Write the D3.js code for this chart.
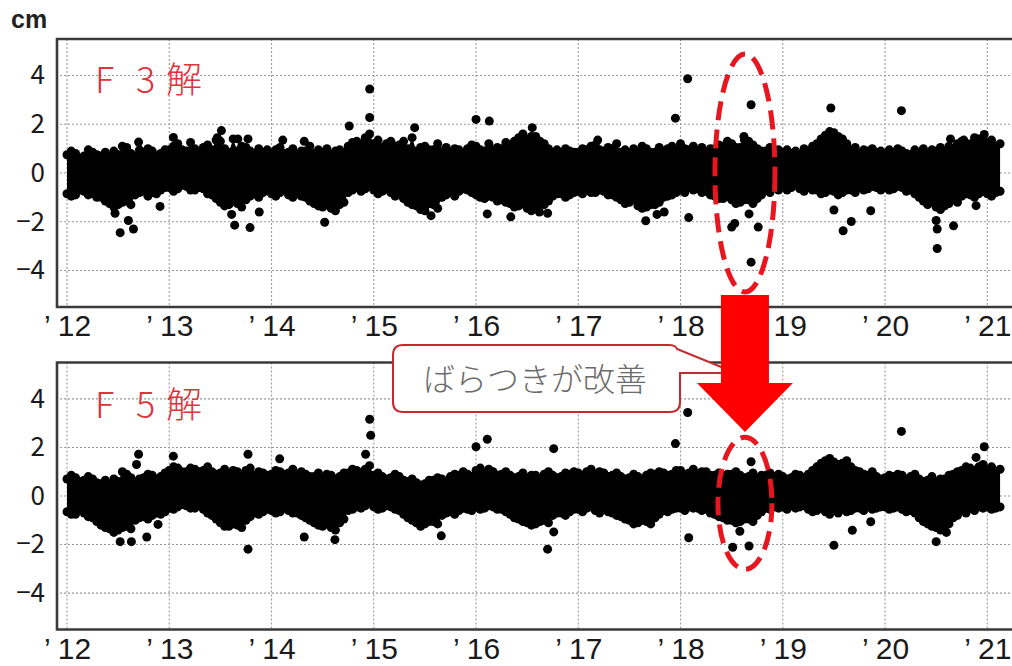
<!DOCTYPE html>
<html><head><meta charset="utf-8">
<script src="https://cdn.jsdelivr.net/npm/d3@7"></script>
<style>
html,body{margin:0;padding:0;background:#fff;}
svg{display:block;font-family:"Noto Sans CJK JP","Noto Sans",sans-serif;}
</style></head>
<body><svg id="c" width="1012" height="666"></svg>
<script>
// ---------- data ----------
const years = [2012,2013,2014,2015,2016,2017,2018,2019,2020,2021];
const yTicks = [-4,-2,0,2,4];
const unitLabel = "cm";
const panelNames = [["F","3","解"],["F","5","解"]];
const calloutText = "ばらつきが改善";
// month starts Jan 2012 .. Feb 2021
const months = [];
for (let y = 2012; y <= 2021; y++) for (let m = 0; m < 12; m++) { if (y === 2021 && m > 1) break; months.push(y + m/12); }

// F3 solution: upper / lower edge of the dense daily cloud (cm), at month start and mid-month
const f3Upper = [
 0.75,0.8,0.7,0.85,0.7,0.65,0.75,1.05,0.7,0.85,0.9,0.8,
 0.95,1.2,0.9,1.0,1.05,0.95,1.3,0.85,0.9,1.05,0.8,0.85,
 0.8,1.05,0.85,0.75,0.9,0.8,0.85,0.75,0.95,1.1,1.3,1.45,
 1.2,1.05,1.3,1.15,1.0,0.9,1.1,0.95,0.9,0.85,0.95,1.0,
 1.1,0.9,0.95,1.0,1.15,1.45,1.35,1.5,1.2,0.85,0.8,0.9,
 0.85,0.95,1.15,0.9,1.0,0.85,0.8,0.9,1.0,0.85,0.9,1.1,
 1.2,0.95,0.9,0.85,1.0,1.1,1.2,1.05,1.3,1.0,0.9,0.8,
 0.85,0.8,0.75,0.9,1.2,1.55,1.65,1.4,0.95,0.8,0.9,0.85,
 0.8,0.85,0.9,0.75,0.85,0.8,0.9,0.85,1.0,1.3,1.2,1.4,
 1.25,1.1];
const f3UpperMid = [
 0.9,0.6,0.95,0.75,0.85,0.9,1.1,0.8,0.95,1.0,0.7,0.95,
 1.1,0.95,1.25,0.85,1.15,1.35,1.0,1.4,1.1,0.9,1.0,0.95,
 0.95,0.8,1.0,0.9,1.1,0.95,1.0,0.9,0.85,1.25,1.2,1.6,
 1.35,1.2,1.1,1.3,1.45,1.05,0.95,1.2,1.05,1.0,0.8,1.15,
 0.95,1.2,1.05,1.25,1.3,1.6,1.5,1.3,1.0,0.95,1.0,0.85,
 1.0,1.1,0.95,1.05,1.2,0.95,1.0,1.1,0.85,1.05,1.0,0.95,
 1.0,1.1,1.05,1.0,1.15,1.3,1.05,1.35,1.15,0.9,1.05,0.95,
 0.95,0.9,1.0,1.1,1.4,1.7,1.5,1.2,1.05,0.95,1.0,0.9,
 0.95,1.0,0.8,0.95,1.0,0.95,1.05,1.1,1.2,1.15,1.45,1.3,
 1.35,1.2];
const f3Lower = [
 -0.85,-0.9,-0.75,-0.85,-1.0,-1.25,-1.3,-1.15,-0.9,-0.75,-0.8,-0.7,
 -0.6,-0.65,-0.55,-0.7,-0.65,-0.9,-1.2,-1.3,-1.25,-1.1,-0.85,-0.8,
 -0.85,-0.8,-0.9,-0.85,-1.0,-1.25,-1.4,-1.45,-1.3,-0.8,-0.6,-0.65,
 -0.7,-0.75,-0.8,-0.9,-1.2,-1.35,-1.4,-1.3,-1.0,-0.8,-0.75,-0.7,
 -0.9,-1.05,-1.0,-1.1,-1.25,-1.35,-1.45,-1.4,-1.3,-0.95,-0.85,-0.9,
 -0.75,-0.7,-0.8,-0.75,-0.9,-1.1,-1.2,-1.35,-1.4,-1.3,-1.0,-0.9,
 -0.7,-0.6,-0.65,-0.75,-0.95,-1.05,-1.1,-1.2,-1.1,-1.05,-0.7,-0.6,
 -0.55,-0.6,-0.65,-0.6,-0.7,-0.8,-0.75,-0.8,-0.7,-0.6,-0.65,-0.6,
 -0.6,-0.65,-0.6,-0.7,-1.0,-1.3,-1.4,-1.35,-1.1,-0.95,-0.9,-0.85,
 -0.85,-0.8];
const f3LowerMid = [
 -0.95,-0.7,-0.9,-1.0,-1.15,-1.4,-1.2,-1.3,-0.8,-0.95,-0.85,-0.6,
 -0.75,-0.5,-0.7,-0.6,-0.85,-1.05,-1.35,-1.15,-1.4,-0.95,-1.0,-0.7,
 -0.95,-0.7,-1.0,-0.95,-1.15,-1.35,-1.3,-1.55,-1.2,-0.7,-0.75,-0.55,
 -0.85,-0.65,-0.95,-1.05,-1.3,-1.5,-1.25,-1.45,-0.9,-0.95,-0.65,-0.8,
 -1.0,-0.95,-1.15,-1.2,-1.4,-1.25,-1.55,-1.3,-1.15,-0.85,-1.0,-0.8,
 -0.85,-0.8,-0.7,-0.9,-1.0,-1.25,-1.1,-1.45,-1.3,-1.2,-0.95,-0.8,
 -0.8,-0.7,-0.8,-0.9,-1.05,-0.95,-1.25,-1.1,-1.25,-0.9,-0.8,-0.7,
 -0.7,-0.5,-0.75,-0.7,-0.85,-0.7,-0.9,-0.7,-0.8,-0.7,-0.55,-0.7,
 -0.7,-0.55,-0.75,-0.85,-1.15,-1.2,-1.5,-1.25,-1.2,-0.85,-1.0,-0.75,
 -0.95,-0.75];
// F3 isolated daily points [decimal year, cm]
const f3Outliers = [
 [2012.47,-1.65],[2012.52,-2.45],[2012.60,-1.95],[2012.65,-2.3],[2012.91,-1.37],[2012.70,1.27],
 [2013.04,1.46],[2013.47,1.45],[2013.51,1.74],[2013.67,1.4],[2013.77,1.4],[2013.61,-1.7],[2013.64,-2.14],[2013.79,-2.24],[2013.88,-1.6],
 [2014.11,1.35],[2014.32,1.3],[2014.52,-2.02],[2014.76,1.93],[2014.96,2.28],[2014.96,3.45],
 [2015.40,1.86],[2015.56,-1.75],[2015.50,-1.55],[2016.0,2.2],[2016.13,2.13],[2016.11,-1.68],[2016.34,-1.8],[2016.55,1.86],[2016.62,-1.6],[2016.70,-1.65],
 [2017.19,1.35],[2017.66,-1.96],[2017.77,-1.7],[2017.84,-1.6],[2017.95,2.25],[2018.07,3.87],[2018.08,-1.83],
 [2018.69,2.8],[2018.50,-2.22],[2018.53,-2.07],[2018.67,-1.68],[2018.76,-2.22],[2018.69,-3.66],[2018.62,1.5],
 [2019.47,2.67],[2019.50,-1.52],[2019.59,-2.37],[2019.67,-1.99],[2019.86,-1.55],
 [2020.16,2.56],[2020.51,-3.1],[2020.51,-2.3],[2020.50,-1.95],[2020.67,-2.17],[2020.89,-1.34],[2020.97,1.58],[2020.64,1.4],[2020.77,1.35]];

// F5 solution
const f5Upper = [
 0.7,0.75,0.65,0.7,0.5,0.45,0.6,0.9,0.55,0.75,0.85,0.8,
 1.05,1.15,1.0,1.1,1.05,1.0,0.95,0.9,1.0,1.05,0.85,0.95,
 0.9,1.0,0.95,0.85,0.9,0.8,0.75,0.85,0.8,0.95,1.05,1.1,
 0.85,0.8,0.75,0.8,0.6,0.55,0.5,0.65,0.7,0.8,0.85,0.9,
 1.05,0.95,1.0,0.9,0.85,0.8,0.75,0.85,0.9,0.85,0.8,0.9,
 0.95,1.0,0.9,0.95,0.85,0.8,0.75,0.8,0.85,0.9,0.95,0.9,
 1.05,0.95,0.9,1.0,0.85,0.8,0.9,0.85,0.8,0.75,0.85,0.8,
 0.8,0.75,0.85,0.9,1.2,1.45,1.4,1.35,1.2,1.0,0.85,0.8,
 0.75,0.8,0.85,0.8,0.7,0.65,0.6,0.7,0.9,1.05,1.15,1.2,
 1.1,1.0];
const f5UpperMid = [
 0.85,0.6,0.8,0.55,0.65,0.7,1.0,0.75,0.7,0.9,0.7,0.95,
 1.2,1.0,1.15,1.0,1.2,0.9,1.1,1.05,0.85,1.15,1.0,0.85,
 1.05,0.9,1.1,1.0,0.8,0.95,0.9,0.7,0.95,1.1,0.95,1.25,
 0.95,0.7,0.9,0.65,0.7,0.45,0.65,0.75,0.6,0.9,1.0,0.8,
 1.15,1.1,0.85,1.0,0.75,0.95,0.85,0.7,1.0,0.75,0.95,1.0,
 0.85,1.1,1.0,0.8,0.95,0.7,0.9,0.7,0.95,1.0,0.85,1.05,
 0.9,1.1,1.0,0.85,0.95,0.9,1.0,0.75,0.95,0.85,0.95,0.9,
 0.7,0.9,0.75,1.05,1.35,1.55,1.3,1.45,1.05,0.9,1.0,0.7,
 0.85,0.9,0.7,0.9,0.6,0.8,0.7,0.85,1.0,1.2,1.05,1.3,
 1.2,1.1];
const f5Lower = [
 -0.65,-0.75,-0.7,-0.9,-1.2,-1.35,-1.4,-1.25,-1.0,-0.85,-0.8,-0.75,
 -0.5,-0.45,-0.4,-0.5,-0.55,-0.8,-1.1,-1.25,-1.2,-1.0,-0.7,-0.65,
 -0.6,-0.65,-0.6,-0.7,-0.9,-1.1,-1.25,-1.3,-1.1,-0.6,-0.45,-0.4,
 -0.45,-0.5,-0.45,-0.6,-0.9,-1.1,-1.15,-1.05,-0.8,-0.65,-0.6,-0.55,
 -0.45,-0.5,-0.45,-0.55,-0.75,-0.95,-1.1,-1.15,-1.0,-0.8,-0.7,-0.65,
 -0.55,-0.5,-0.6,-0.55,-0.7,-0.85,-1.0,-1.1,-1.05,-0.9,-0.6,-0.55,
 -0.5,-0.45,-0.5,-0.55,-0.75,-0.9,-1.0,-1.05,-0.95,-0.8,-0.5,-0.45,
 -0.45,-0.4,-0.45,-0.55,-0.6,-0.65,-0.6,-0.55,-0.6,-0.5,-0.45,-0.5,
 -0.45,-0.5,-0.55,-0.6,-0.9,-1.15,-1.3,-1.25,-0.9,-0.6,-0.5,-0.45,
 -0.45,-0.5];
const f5LowerMid = [
 -0.75,-0.6,-0.85,-1.05,-1.3,-1.5,-1.3,-1.35,-0.9,-0.95,-0.7,-0.65,
 -0.55,-0.35,-0.5,-0.4,-0.7,-0.95,-1.25,-1.15,-1.3,-0.85,-0.75,-0.55,
 -0.7,-0.5,-0.7,-0.8,-1.0,-1.2,-1.15,-1.4,-0.95,-0.55,-0.5,-0.3,
 -0.55,-0.4,-0.55,-0.75,-1.0,-1.25,-1.05,-1.15,-0.7,-0.75,-0.5,-0.6,
 -0.55,-0.4,-0.55,-0.65,-0.9,-1.05,-1.2,-1.05,-1.1,-0.7,-0.8,-0.55,
 -0.65,-0.45,-0.7,-0.65,-0.8,-0.95,-1.15,-1.0,-1.15,-0.75,-0.65,-0.5,
 -0.6,-0.5,-0.6,-0.7,-0.85,-1.0,-1.1,-0.95,-1.05,-0.65,-0.55,-0.5,
 -0.55,-0.5,-0.4,-0.65,-0.5,-0.75,-0.7,-0.65,-0.5,-0.6,-0.55,-0.45,
 -0.55,-0.45,-0.65,-0.7,-1.05,-1.25,-1.4,-1.15,-0.8,-0.7,-0.6,-0.5,
 -0.55,-0.45];
const f5Outliers = [
 [2012.52,-1.88],[2012.63,-1.88],[2012.78,-1.69],[2012.89,-1.17],[2012.70,1.72],[2012.68,1.3],
 [2013.04,1.64],[2013.77,1.72],[2013.77,-2.19],[2014.08,1.53],[2014.32,-1.69],[2014.62,-1.8],[2014.96,3.16],[2014.97,2.5],[2014.92,1.72],
 [2015.66,-1.64],[2016.0,2.03],[2016.11,2.34],[2016.76,1.95],[2016.70,-2.19],[2016.76,-1.48],
 [2017.95,2.16],[2018.07,3.44],[2018.08,-1.72],
 [2018.69,1.41],[2018.51,-2.11],[2018.67,-2.06],[2018.58,-1.45],
 [2019.50,-2.03],[2019.68,-1.41],[2019.86,-1.06],[2020.16,2.66],[2020.50,-1.88],[2020.60,-1.5],[2020.89,1.59],[2020.97,2.03]];

const highlightYear = 2018.63;

// ---------- drawing ----------
const svg = d3.select("#c");
const W = 1012;
const x = d3.scaleLinear().domain([2012, 2021]).range([67, 987.3]);
const frameLeft = 57;
const R = 4.5;

const panels = [
  {name: panelNames[0], up: f3Upper, upM: f3UpperMid, lo: f3Lower, loM: f3LowerMid, out: f3Outliers, top: 39, bottom: 307, labelBase: 93, ellCy: 0, ellRy: 119, ellRx: 30},
  {name: panelNames[1], up: f5Upper, upM: f5UpperMid, lo: f5Lower, loM: f5LowerMid, out: f5Outliers, top: 362.5, bottom: 629.5, labelBase: 418, ellCy: -0.3, ellRy: 66, ellRx: 27}
];

panels.forEach((p, i) => {
  const y = d3.scaleLinear().domain([-5.5, 5.5]).range([p.bottom, p.top]);
  p.y = y;
  const g = svg.append("g");
  const clipId = "clip" + i;
  svg.append("clipPath").attr("id", clipId).append("rect")
    .attr("x", frameLeft).attr("y", p.top).attr("width", W - frameLeft + 10).attr("height", p.bottom - p.top);

  // grid
  const grid = g.append("g").attr("stroke", "#9a9a9a").attr("stroke-width", 1.1).attr("stroke-dasharray", "2,2");
  grid.selectAll("line.h").data(yTicks).join("line")
    .attr("x1", frameLeft + 3).attr("x2", W + 5).attr("y1", d => y(d)).attr("y2", d => y(d));
  grid.selectAll("line.v").data(years).join("line")
    .attr("x1", d => x(d)).attr("x2", d => x(d)).attr("y1", p.top).attr("y2", p.bottom);

  // data
  const dg = g.append("g").attr("clip-path", `url(#${clipId})`);
  const band = months.flatMap((t, k) => [
    {t, u: p.up[k], l: p.lo[k]},
    {t: t + 0.5/12, u: p.upM[k], l: p.loM[k]}
  ]);
  dg.append("path").datum(band)
    .attr("d", d3.area().x(d => x(d.t)).y0(d => y(d.l)).y1(d => y(d.u)))
    .attr("fill", "#000");
  const edgePts = band.flatMap(d => [[d.t, d.u], [d.t, d.l]]);
  dg.selectAll("circle.e").data(edgePts).join("circle")
    .attr("cx", d => x(d[0])).attr("cy", d => y(d[1])).attr("r", R).attr("fill", "#000");
  dg.selectAll("circle.o").data(p.out).join("circle")
    .attr("cx", d => x(d[0])).attr("cy", d => y(d[1])).attr("r", R).attr("fill", "#000");

  // frame
  const fr = g.append("g").attr("stroke", "#3a3a3a").attr("stroke-width", 2.6).attr("fill", "none");
  fr.append("path").attr("d", `M${W + 5},${p.top}H${frameLeft}V${p.bottom}H${W + 5}`);

  // y axis
  const ya = g.append("g").attr("transform", `translate(${frameLeft},0)`)
    .call(d3.axisLeft(y).tickValues(yTicks).tickSize(0).tickPadding(12).tickFormat(d3.format("d")));
  ya.select(".domain").remove();
  ya.selectAll("text").attr("font-size", 26).attr("fill", "#1a1a1a")
    .attr("font-family", '"Noto Sans CJK JP","Noto Sans",sans-serif');

  // x axis
  const xa = g.append("g").attr("transform", `translate(0,${p.bottom})`)
    .call(d3.axisBottom(x).tickValues(years).tickSize(0).tickPadding(8)
      .tickFormat(d => "’ " + String(d).slice(2)));
  xa.select(".domain").remove();
  xa.selectAll("text").attr("font-size", 30).attr("fill", "#1a1a1a")
    .attr("font-family", '"Liberation Sans",Arial,sans-serif');

  // panel label
  const lab = g.append("text").attr("y", p.labelBase).attr("fill", "#e0323a").attr("font-size", 36)
    .attr("font-weight", 300);
  const lx = [95, 136, 166];
  p.name.forEach((c, k) => lab.append("tspan").attr("x", lx[k]).text(c));
});

// unit
svg.append("text").attr("x", 11).attr("y", 28).attr("font-size", 25).attr("font-weight", "bold")
  .attr("fill", "#222").attr("font-family", '"Liberation Sans",Arial,sans-serif').text(unitLabel);

// ellipses
panels.forEach(p => {
  svg.append("ellipse").attr("cx", x(highlightYear)).attr("cy", p.y(p.ellCy))
    .attr("rx", p.ellRx).attr("ry", p.ellRy)
    .attr("fill", "none").attr("stroke", "#e8161f").attr("stroke-width", 5)
    .attr("stroke-dasharray", "19,9");
});

// callout
svg.append("path")
  .attr("d", "M403,345 H668 Q676,345 677,349 L736,373 L680,373 V402 Q680,412 670,412 H403 Q393,412 393,402 V355 Q393,345 403,345 Z")
  .attr("fill", "#fff").attr("stroke", "#c42a30").attr("stroke-width", 2);
svg.append("text").attr("x", 535).attr("y", 391).attr("text-anchor", "middle")
  .attr("font-size", 32).attr("font-weight", 300).attr("fill", "#6b6b6b").text(calloutText);

// big arrow
const ax = x(highlightYear);
svg.append("path")
  .attr("d", `M${ax-24},295 H${ax+24} V383 H${ax+48} L${ax},432 L${ax-48},383 H${ax-24} Z`)
  .attr("fill", "#fe0000");
</script></body></html>
